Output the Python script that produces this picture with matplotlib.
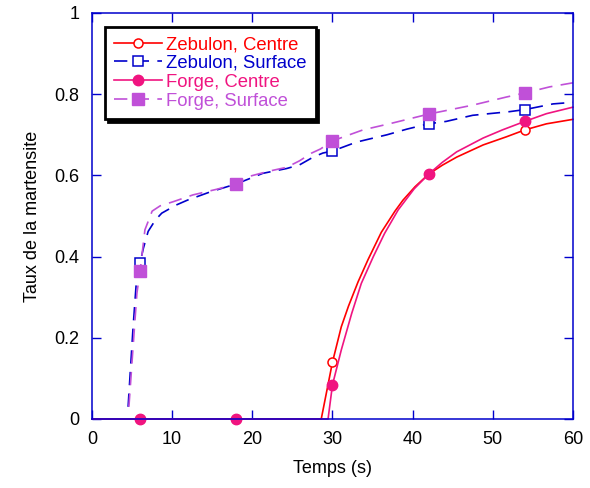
import numpy as np
import matplotlib
matplotlib.use("Agg")
import matplotlib.pyplot as plt

plt.rcParams['font.family'] = ['Liberation Sans', 'DejaVu Sans']

# marker times (s)
mark_t = [6, 18, 30, 42, 54]

# Zebulon, Centre
zc_t = [0, 6, 18, 28.6, 30, 31.1, 32.0, 33.2, 34.45, 36.1, 37.8, 38.8, 40.3, 42,
        43.7, 45.5, 48.8, 51.7, 54, 56.7, 60]
zc_y = [0, 0, 0, 0, 0.14, 0.227, 0.278, 0.338, 0.393, 0.46, 0.512, 0.539, 0.572, 0.603,
        0.625, 0.645, 0.675, 0.695, 0.712, 0.727, 0.738]

# Zebulon, Surface
zs_t = [4.5, 5.1, 5.5, 6, 6.4, 7.0, 7.9, 8.7, 10.5, 11.9, 14.7, 18, 21.3, 24.3, 25.9,
        27.6, 28.8, 30, 33, 36.8, 39.3, 42, 44.2, 47.5, 52.1, 54, 57.5, 60]
zs_y = [0.03, 0.22, 0.33, 0.385, 0.42, 0.462, 0.49, 0.507, 0.527, 0.539, 0.559, 0.579,
        0.605, 0.617, 0.626, 0.645, 0.655, 0.66, 0.682, 0.70, 0.714, 0.727, 0.733,
        0.748, 0.757, 0.762, 0.776, 0.78]

# Forge, Centre
fc_t = [0, 6, 18, 29.45, 30, 31.1, 32.4, 33.6, 35.1, 36.5, 38.2, 40.2, 42, 43.7, 45.5,
        48.8, 51.2, 54, 56.7, 60]
fc_y = [0, 0, 0, 0, 0.084, 0.17, 0.26, 0.334, 0.40, 0.457, 0.515, 0.567, 0.603, 0.632,
        0.658, 0.692, 0.712, 0.733, 0.752, 0.768]

# Forge, Surface
fs_t = [4.6, 5.2, 5.6, 6, 6.6, 7.5, 8.5, 10.1, 12.6, 15.6, 18, 19.7, 22, 24.3, 25.9,
        27.4, 28.5, 30, 33.8, 37.5, 42, 47.5, 51.7, 54, 57.1, 60]
fs_y = [0.03, 0.2, 0.31, 0.365, 0.466, 0.512, 0.525, 0.535, 0.552, 0.566, 0.579, 0.598,
        0.61, 0.62, 0.636, 0.655, 0.665, 0.685, 0.712, 0.729, 0.751, 0.773, 0.793,
        0.803, 0.818, 0.828]

red = '#ff0000'
blue = '#0000cc'
pink = '#f01480'
purple = '#c050d8'

def marks(t):
    return list(np.where(np.isin(t, mark_t))[0])

fig = plt.figure(figsize=(5.9, 4.88), dpi=100)
ax = fig.add_axes([0.156, 0.1414, 0.815, 0.832])

ax.plot(zc_t, zc_y, '-', color=red, lw=1.2, marker='o', ms=6.5, mfc='white',
        mec=red, mew=1.1, markevery=marks(zc_t), label='Zebulon, Centre', clip_on=False)
ax.plot(zs_t, zs_y, '--', color=blue, lw=1.2, dashes=(8, 5), marker='s', ms=6.5,
        mfc='white', mec=blue, mew=1.1, markevery=marks(zs_t),
        label='Zebulon, Surface', clip_on=False)
ax.plot(fc_t, fc_y, '-', color=pink, lw=1.2, marker='o', ms=7.5, mfc=pink, mec=pink,
        markevery=marks(fc_t), label='Forge, Centre', clip_on=False)
ax.plot(fs_t, fs_y, '--', color=purple, lw=1.2, dashes=(8, 5), marker='s', ms=8,
        mfc=purple, mec=purple, markevery=marks(fs_t), label='Forge, Surface',
        clip_on=False)

ax.set_xlim(0, 60)
ax.set_ylim(0, 1)
ax.set_xticks([0, 10, 20, 30, 40, 50, 60])
ax.set_yticks([0, 0.2, 0.4, 0.6, 0.8, 1])
ax.set_yticklabels(['0', '0.2', '0.4', '0.6', '0.8', '1'])

for s in ax.spines.values():
    s.set_color(blue)
    s.set_linewidth(1.1)
ax.tick_params(direction='in', length=6.5, width=1, color=blue, top=True, right=True,
               labelsize=13, pad=9)

ax.set_xlabel('Temps (s)', fontsize=13, labelpad=8)
ax.set_ylabel('Taux de la martensite', fontsize=13, labelpad=10)

leg = ax.legend(loc='upper left', bbox_to_anchor=(0.027, 0.966), borderaxespad=0,
                fontsize=13.3, fancybox=False, edgecolor='black', framealpha=1,
                shadow={'color': 'black', 'alpha': 1}, handlelength=2.6,
                handletextpad=0.2, labelspacing=0.1, borderpad=0.5)
leg.get_frame().set_linewidth(2)
for txt, c in zip(leg.get_texts(), [red, blue, pink, purple]):
    txt.set_color(c)

fig.savefig('out.png', dpi=100)
